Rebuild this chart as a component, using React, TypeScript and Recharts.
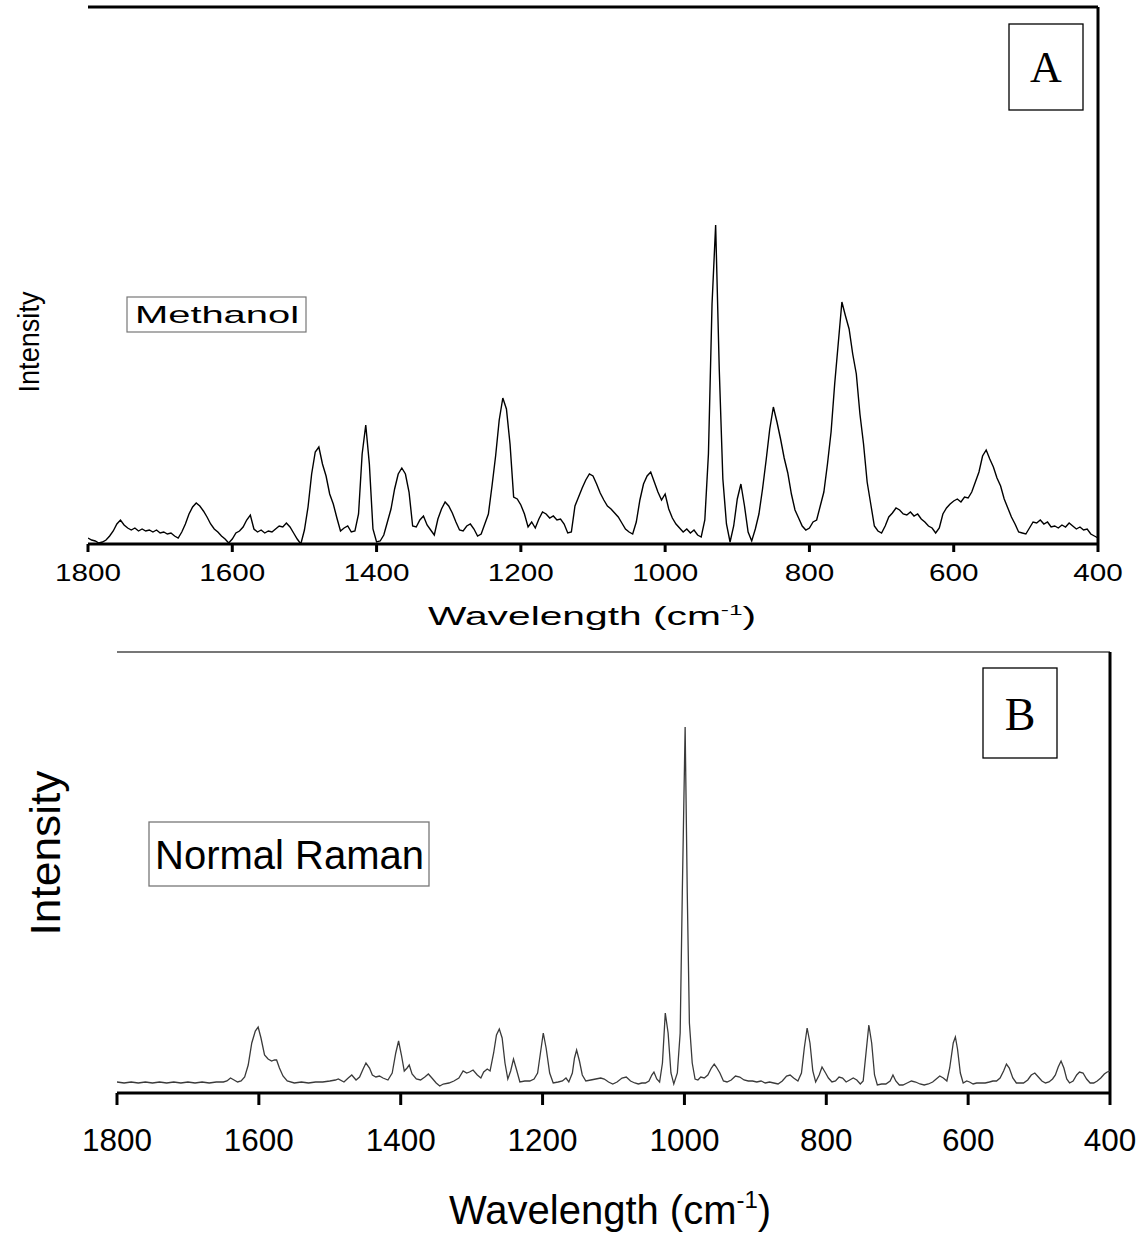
// Two stacked Raman spectra (methanol, normal Raman) drawn as plain line charts
// with boxed borders, stretched labels and boxed annotations layered on top.
import { Line, LineChart, ReferenceLine, XAxis, YAxis } from "recharts";

const FONT = '"Liberation Sans", Arial, sans-serif';
const SERIF = '"Liberation Serif", "Times New Roman", serif';

const TICKS = [1800, 1600, 1400, 1200, 1000, 800, 600, 400];

// Panel A: methanol spectrum, read every 5 cm-1
const wavenumbersA = [
  1800, 1795, 1790, 1785, 1780, 1775, 1770, 1765, 1760, 1755,
  1750, 1745, 1740, 1735, 1730, 1725, 1720, 1715, 1710, 1705,
  1700, 1695, 1690, 1685, 1680, 1675, 1670, 1665, 1660, 1655,
  1650, 1645, 1640, 1635, 1630, 1625, 1620, 1615, 1610, 1605,
  1600, 1595, 1590, 1585, 1580, 1575, 1570, 1565, 1560, 1555,
  1550, 1545, 1540, 1535, 1530, 1525, 1520, 1515, 1510, 1505,
  1500, 1495, 1490, 1485, 1480, 1475, 1470, 1465, 1460, 1455,
  1450, 1445, 1440, 1435, 1430, 1425, 1420, 1415, 1410, 1405,
  1400, 1395, 1390, 1385, 1380, 1375, 1370, 1365, 1360, 1355,
  1350, 1345, 1340, 1335, 1330, 1325, 1320, 1315, 1310, 1305,
  1300, 1295, 1290, 1285, 1280, 1275, 1270, 1265, 1260, 1255,
  1250, 1245, 1240, 1235, 1230, 1225, 1220, 1215, 1210, 1205,
  1200, 1195, 1190, 1185, 1180, 1175, 1170, 1165, 1160, 1155,
  1150, 1145, 1140, 1135, 1130, 1125, 1120, 1115, 1110, 1105,
  1100, 1095, 1090, 1085, 1080, 1075, 1070, 1065, 1060, 1055,
  1050, 1045, 1040, 1035, 1030, 1025, 1020, 1015, 1010, 1005,
  1000, 995, 990, 985, 980, 975, 970, 965, 960, 955,
  950, 945, 940, 935, 930, 925, 920, 915, 910, 905,
  900, 895, 890, 885, 880, 875, 870, 865, 860, 855,
  850, 845, 840, 835, 830, 825, 820, 815, 810, 805,
  800, 795, 790, 785, 780, 775, 770, 765, 760, 755,
  750, 745, 740, 735, 730, 725, 720, 715, 710, 705,
  700, 695, 690, 685, 680, 675, 670, 665, 660, 655,
  650, 645, 640, 635, 630, 625, 620, 615, 610, 605,
  600, 595, 590, 585, 580, 575, 570, 565, 560, 555,
  550, 545, 540, 535, 530, 525, 520, 515, 510, 505,
  500, 495, 490, 485, 480, 475, 470, 465, 460, 455,
  450, 445, 440, 435, 430, 425, 420, 415, 410, 405,
  400,
];
const intensityA = [
  6, 4, 3, 1, 2, 4, 8, 13, 20, 24,
  19, 16, 14, 16, 13, 15, 13, 14, 12, 14,
  11, 12, 10, 11, 8, 6, 12, 20, 30, 37,
  41, 38, 33, 27, 20, 15, 12, 8, 5, 1,
  5, 11, 13, 17, 24, 29, 15, 12, 14, 11,
  13, 12, 15, 18, 17, 21, 17, 11, 5, 0,
  14, 37, 70, 92, 97, 80, 68, 50, 40, 26,
  13, 16, 18, 12, 13, 30, 90, 119, 80, 15,
  2, 3, 9, 22, 35, 55, 70, 76, 70, 52,
  18, 17, 24, 28, 19, 14, 9, 25, 35, 42,
  38, 31, 22, 14, 13, 18, 20, 15, 8, 10,
  20, 30, 58, 88, 124, 146, 135, 100, 47, 45,
  39, 30, 17, 22, 16, 25, 32, 30, 26, 28,
  24, 25, 20, 11, 12, 38, 47, 56, 64, 70,
  68, 60, 51, 44, 38, 35, 31, 27, 21, 15,
  12, 10, 22, 44, 60, 68, 72, 62, 52, 44,
  50, 35, 26, 20, 16, 12, 15, 11, 14, 9,
  7, 24, 90, 240, 319, 175, 65, 20, 2, 18,
  45, 60, 38, 12, 3, 15, 30, 55, 84, 115,
  137, 122, 105, 86, 71, 50, 34, 26, 18, 14,
  16, 22, 24, 38, 52, 80, 112, 160, 201, 242,
  228, 215, 190, 170, 130, 100, 62, 40, 18, 13,
  11, 18, 27, 31, 36, 34, 30, 29, 32, 28,
  30, 25, 22, 18, 16, 11, 16, 30, 36, 40,
  43, 45, 42, 47, 46, 52, 62, 72, 88, 94,
  85, 77, 66, 58, 45, 36, 27, 20, 12, 11,
  10, 16, 22, 21, 24, 20, 22, 17, 18, 16,
  19, 17, 21, 18, 15, 17, 14, 15, 10, 8,
  6,
];

// Panel B: normal Raman spectrum
const wavenumbersB = [
  1800, 1790, 1780, 1770, 1760, 1750, 1740, 1730, 1720, 1710,
  1700, 1690, 1680, 1670, 1660, 1650, 1645, 1640, 1635, 1630,
  1625, 1620, 1615, 1610, 1605, 1601, 1597, 1592, 1587, 1582,
  1578, 1575, 1571, 1566, 1560, 1550, 1540, 1530, 1520, 1510,
  1500, 1492, 1488, 1480, 1474, 1469, 1463, 1458, 1453, 1449,
  1444, 1440, 1435, 1430, 1425, 1418, 1412, 1407, 1403, 1399,
  1395, 1391, 1388, 1384, 1378, 1372, 1366, 1361, 1356, 1350,
  1345, 1340, 1332, 1325, 1318, 1312, 1307, 1303, 1298, 1292,
  1287, 1283, 1278, 1274, 1269, 1265, 1261, 1257, 1253, 1249,
  1245, 1241, 1237, 1232, 1225, 1218, 1212, 1207, 1203, 1199,
  1195, 1190, 1185, 1178, 1172, 1167, 1163, 1158, 1155, 1152,
  1148, 1144, 1139, 1132, 1125, 1118, 1113, 1107, 1101, 1095,
  1088, 1082, 1076, 1070, 1065, 1060, 1055, 1050, 1046, 1043,
  1039, 1035, 1031, 1027, 1023, 1019, 1015, 1010, 1006, 1003,
  999, 996, 993, 989, 985, 981, 977, 972, 967, 962,
  958, 955, 950, 945, 940, 934, 928, 922, 916, 910,
  904, 898, 892, 886, 880, 874, 868, 862, 856, 851,
  846, 840, 835, 831, 827, 823, 819, 815, 810, 806,
  801, 797, 792, 787, 782, 777, 772, 767, 762, 757,
  752, 748, 744, 740, 736, 732, 728, 722, 716, 710,
  706, 702, 697, 692, 686, 680, 674, 668, 662, 656,
  650, 645, 640, 635, 630, 626, 621, 618, 615, 611,
  607, 602, 598, 593, 588, 582, 576, 570, 565, 560,
  555, 550, 546, 542, 537, 532, 527, 522, 516, 511,
  506, 501, 496, 491, 486, 481, 477, 473, 469, 465,
  461, 457, 452, 447, 443, 438, 433, 428, 423, 418,
  413, 408, 404, 400,
];
const intensityB = [
  11, 10, 11, 10, 11, 10, 11, 10, 11, 10,
  11, 10, 11, 10, 11, 11, 12, 15, 13, 11,
  12, 16, 28, 50, 62, 66, 55, 38, 34, 32,
  33, 33, 25, 17, 12, 10, 11, 10, 11, 11,
  12, 13, 14, 11, 15, 18, 13, 16, 24, 30,
  25, 18, 16, 17, 15, 13, 20, 40, 52, 38,
  22, 25, 28, 19, 14, 13, 16, 19, 15, 10,
  7, 9, 10, 12, 15, 22, 20, 21, 23, 18,
  15, 21, 24, 22, 40, 58, 64, 55, 30, 14,
  22, 34, 24, 11, 12, 12, 14, 20, 40, 60,
  45, 20, 10, 11, 12, 15, 11, 20, 35, 43,
  32, 18, 12, 13, 14, 15, 14, 11, 9, 11,
  15, 16, 12, 10, 9, 10, 10, 12, 18, 21,
  14, 11, 30, 80, 60, 20, 9, 20, 60, 200,
  366, 200, 70, 30, 14, 13, 16, 15, 18, 25,
  29, 26, 20, 12, 11, 13, 17, 16, 13, 12,
  12, 11, 12, 10, 11, 10, 9, 12, 17, 18,
  15, 12, 20, 45, 65, 50, 22, 11, 18, 26,
  20, 15, 11, 12, 16, 15, 11, 13, 15, 13,
  9, 12, 40, 68, 50, 18, 8, 9, 9, 12,
  18, 12, 8, 8, 10, 12, 11, 9, 8, 9,
  11, 14, 17, 15, 12, 25, 50, 56, 44, 20,
  10, 12, 11, 9, 10, 10, 10, 11, 12, 12,
  15, 22, 29, 25, 15, 10, 10, 10, 13, 18,
  20, 16, 12, 10, 11, 14, 18, 26, 32, 25,
  14, 10, 12, 18, 21, 20, 14, 10, 10, 12,
  15, 19, 21, 22,
];

const rowsA = wavenumbersA.map((w, i) => ({ w, v: intensityA[i] }));
const rowsB = wavenumbersB.map((w, i) => ({ w, v: intensityB[i] }));

// Tick labels are stretched to the widths seen in the figure.
function makeTick(fontSize: number, digitWidth: number, dy: number) {
  return (props: any) => {
    const { x, y, payload } = props;
    const label = String(payload.value);
    return (
      <text
        x={x}
        y={y + dy}
        textAnchor="middle"
        fontFamily={FONT}
        fontSize={fontSize}
        fill="#000"
        textLength={label.length * digitWidth}
        lengthAdjust="spacingAndGlyphs"
      >
        {label}
      </text>
    );
  };
}

const tickA = makeTick(24, 16.5, 29);
const tickB = makeTick(31, 17.5, 46);

export default function App() {
  return (
    <div style={{ position: "absolute", left: 0, top: 0, width: 1142, height: 1237, background: "#fff" }}>
      <div style={{ position: "absolute", left: 0, top: 0 }}>
        <LineChart width={1142} height={640} data={rowsA} margin={{ top: 7, right: 44, left: 88, bottom: 0 }}>
          <XAxis
            dataKey="w"
            type="number"
            domain={[400, 1800]}
            reversed
            ticks={TICKS}
            interval={0}
            height={96}
            tickSize={8}
            tickMargin={0}
            axisLine={{ stroke: "#000", strokeWidth: 3 }}
            tickLine={{ stroke: "#000", strokeWidth: 3 }}
            tick={tickA}
            allowDataOverflow
          />
          <YAxis
            type="number"
            domain={[0, 537]}
            width={0}
            tick={false}
            tickLine={false}
            axisLine={{ stroke: "#000", strokeWidth: 3 }}
            allowDataOverflow
          />
          <ReferenceLine y={537} stroke="#000" strokeWidth={3} />
          <ReferenceLine x={400} stroke="#000" strokeWidth={3} />
          <Line type="linear" dataKey="v" stroke="#000" strokeWidth={1.4} dot={false} isAnimationActive={false} />
        </LineChart>
      </div>

      <div style={{ position: "absolute", left: 0, top: 640 }}>
        <LineChart width={1142} height={597} data={rowsB} margin={{ top: 12, right: 32, left: 117, bottom: 0 }}>
          <XAxis
            dataKey="w"
            type="number"
            domain={[400, 1800]}
            reversed
            ticks={TICKS}
            interval={0}
            height={144}
            tickSize={12}
            tickMargin={0}
            axisLine={{ stroke: "#000", strokeWidth: 3 }}
            tickLine={{ stroke: "#000", strokeWidth: 3 }}
            tick={tickB}
            allowDataOverflow
          />
          <YAxis
            type="number"
            domain={[0, 441]}
            width={0}
            tick={false}
            tickLine={false}
            axisLine={{ stroke: "#222", strokeWidth: 3 }}
            allowDataOverflow
          />
          <ReferenceLine y={441} stroke="#777" strokeWidth={2} />
          <ReferenceLine x={400} stroke="#000" strokeWidth={3} />
          <Line type="linear" dataKey="v" stroke="#3a3a3a" strokeWidth={1.3} dot={false} isAnimationActive={false} />
        </LineChart>
      </div>

      <svg
        width={1142}
        height={1237}
        style={{ position: "absolute", left: 0, top: 0, pointerEvents: "none" }}
      >
        {/* panel A annotations */}
        <text
          transform="translate(28, 342) rotate(-90)"
          textAnchor="middle"
          dominantBaseline="central"
          fontFamily={FONT}
          fontSize={30}
          textLength={101}
          lengthAdjust="spacingAndGlyphs"
        >
          Intensity
        </text>
        <g transform="translate(428, 625) scale(1.63, 1)">
          <text x={0} y={0} fontFamily={FONT} fontSize={25} fill="#000">
            Wavelength (cm
            <tspan dy={-10} fontSize={15}>-1</tspan>
            <tspan dy={10}>)</tspan>
          </text>
        </g>
        <rect x={127} y={297} width={179} height={35} fill="#fff" stroke="#777" strokeWidth={1.2} />
        <text
          x={135}
          y={323}
          fontFamily={FONT}
          fontSize={24}
          textLength={164}
          lengthAdjust="spacingAndGlyphs"
          fill="#000"
        >
          Methanol
        </text>
        <rect x={1009} y={24} width={74} height={86} fill="#fff" stroke="#000" strokeWidth={1.3} />
        <text x={1046} y={82} textAnchor="middle" fontFamily={SERIF} fontSize={44} fill="#000">
          A
        </text>

        {/* panel B annotations */}
        <text
          transform="translate(45, 853) rotate(-90)"
          textAnchor="middle"
          dominantBaseline="central"
          fontFamily={FONT}
          fontSize={42}
          textLength={165}
          lengthAdjust="spacingAndGlyphs"
        >
          Intensity
        </text>
        <text x={449} y={1224} fontFamily={FONT} fontSize={40} fill="#000">
          Wavelength (cm
          <tspan dy={-16} fontSize={24}>-1</tspan>
          <tspan dy={16}>)</tspan>
        </text>
        <rect x={149} y={822} width={280} height={64} fill="#fff" stroke="#777" strokeWidth={1.3} />
        <text x={155} y={869} fontFamily={FONT} fontSize={40} fill="#000">
          Normal Raman
        </text>
        <rect x={983} y={668} width={74} height={90} fill="#fff" stroke="#000" strokeWidth={1.3} />
        <text x={1020} y={730} textAnchor="middle" fontFamily={SERIF} fontSize={46} fill="#000">
          B
        </text>
      </svg>
    </div>
  );
}
